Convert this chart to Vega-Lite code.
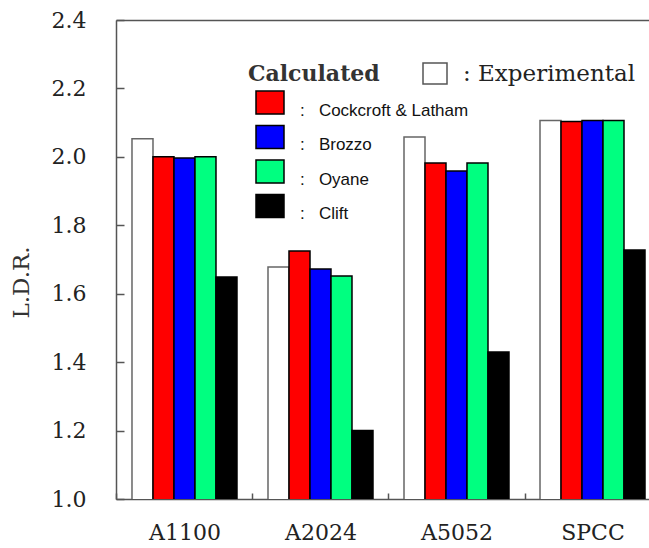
{
  "$schema": "https://vega.github.io/schema/vega-lite/v6.json",
  "width": 533,
  "height": 479,
  "autosize": {"type": "none"},
  "padding": {"left": 116, "top": 20, "right": 0, "bottom": 49},
  "background": "white",
  "config": {"view": {"stroke": null}},
  "data": {
    "values": [
      {"alloy": "A1100", "method": "Experimental", "ldr": 2.053},
      {"alloy": "A1100", "method": "Cockcroft & Latham", "ldr": 2.0},
      {"alloy": "A1100", "method": "Brozzo", "ldr": 1.997},
      {"alloy": "A1100", "method": "Oyane", "ldr": 2.0},
      {"alloy": "A1100", "method": "Clift", "ldr": 1.649},
      {"alloy": "A2024", "method": "Experimental", "ldr": 1.678},
      {"alloy": "A2024", "method": "Cockcroft & Latham", "ldr": 1.725},
      {"alloy": "A2024", "method": "Brozzo", "ldr": 1.672},
      {"alloy": "A2024", "method": "Oyane", "ldr": 1.652},
      {"alloy": "A2024", "method": "Clift", "ldr": 1.2},
      {"alloy": "A5052", "method": "Experimental", "ldr": 2.058},
      {"alloy": "A5052", "method": "Cockcroft & Latham", "ldr": 1.982},
      {"alloy": "A5052", "method": "Brozzo", "ldr": 1.959},
      {"alloy": "A5052", "method": "Oyane", "ldr": 1.982},
      {"alloy": "A5052", "method": "Clift", "ldr": 1.43},
      {"alloy": "SPCC", "method": "Experimental", "ldr": 2.106},
      {"alloy": "SPCC", "method": "Cockcroft & Latham", "ldr": 2.103},
      {"alloy": "SPCC", "method": "Brozzo", "ldr": 2.106},
      {"alloy": "SPCC", "method": "Oyane", "ldr": 2.106},
      {"alloy": "SPCC", "method": "Clift", "ldr": 1.728}
    ]
  },
  "encoding": {
    "x": {
      "field": "alloy",
      "type": "nominal",
      "sort": ["A1100", "A2024", "A5052", "SPCC"],
      "scale": {"paddingInner": 0.228, "paddingOuter": 0.0735, "align": 0.8}
    },
    "xOffset": {
      "field": "method",
      "type": "nominal",
      "scale": {
        "domain": ["Experimental", "Cockcroft & Latham", "Brozzo", "Oyane", "Clift"],
        "paddingInner": 0,
        "paddingOuter": 0
      }
    },
    "y": {
      "field": "ldr",
      "type": "quantitative",
      "scale": {"domain": [1.0, 2.4], "nice": false, "zero": false},
      "axis": {
        "values": [1.0, 1.2, 1.4, 1.6, 1.8, 2.0, 2.2, 2.4],
        "format": ".1f",
        "grid": false,
        "title": "L.D.R.",
        "titleFont": "DejaVu Serif",
        "titleFontSize": 23,
        "titleFontWeight": "normal",
        "titleColor": "#333",
        "titleAngle": -90,
        "titleX": -88,
        "titleY": 262,
        "titleBaseline": "alphabetic",
        "titleAlign": "center",
        "labelFont": "DejaVu Serif",
        "labelFontSize": 22,
        "labelColor": "#222",
        "labelPadding": 38,
        "tickSize": -8,
        "tickColor": "#555",
        "tickWidth": 1.5,
        "domainColor": "#555",
        "domainWidth": 1.5
      }
    }
  },
  "layer": [
    {
      "transform": [{"filter": "datum.method === 'Experimental'"}],
      "mark": {"type": "bar", "stroke": "#666", "strokeWidth": 1.5, "clip": true},
      "encoding": {
        "x": {
          "field": "alloy",
          "type": "nominal",
          "sort": ["A1100", "A2024", "A5052", "SPCC"],
          "axis": {
            "orient": "bottom",
            "title": null,
            "labelAngle": 0,
            "labelFont": "DejaVu Serif",
            "labelFontSize": 22,
            "labelColor": "#222",
            "labelPadding": 29,
            "tickSize": -6,
            "tickOffset": -68,
            "labelOffset": 68,
            "tickColor": "#555",
            "tickWidth": 1.5,
            "domainColor": "#555",
            "domainWidth": 1.5
          }
        },
        "fill": {
          "field": "method",
          "type": "nominal",
          "scale": {"domain": ["Experimental"], "range": ["white"]},
          "legend": {
            "title": null,
            "orient": "none",
            "legendX": 306,
            "legendY": 40.5,
            "padding": 0,
            "symbolType": "M-1,-0.875H1V0.875H-1Z",
            "symbolSize": 576,
            "symbolStrokeColor": "#555",
            "symbolStrokeWidth": 1.5,
            "labelFont": "DejaVu Serif",
            "labelFontSize": 23,
            "labelColor": "#222",
            "labelOffset": 15,
            "labelLimit": 300,
            "labelExpr": "':\u00a0' + datum.label"
          }
        }
      }
    },
    {
      "transform": [{"filter": "datum.method !== 'Experimental'"}],
      "mark": {"type": "bar", "stroke": "black", "strokeWidth": 1.5, "clip": true},
      "encoding": {
        "x": {
          "field": "alloy",
          "type": "nominal",
          "sort": ["A1100", "A2024", "A5052", "SPCC"],
          "axis": {
            "orient": "top",
            "title": null,
            "labels": false,
            "ticks": false,
            "domainColor": "#555",
            "domainWidth": 1.5
          }
        },
        "fill": {
          "field": "method",
          "type": "nominal",
          "scale": {
            "domain": ["Cockcroft & Latham", "Brozzo", "Oyane", "Clift"],
            "range": ["#FF0000", "#0000FF", "#00FF80", "#000000"]
          },
          "legend": {
            "title": "Calculated",
            "orient": "none",
            "legendX": 132,
            "legendY": 43.6,
            "padding": 0,
            "titleFont": "DejaVu Serif",
            "titleFontSize": 22,
            "titleFontWeight": "bold",
            "titleColor": "#333",
            "titleBaseline": "top",
            "titlePadding": 2,
            "symbolType": "M-1,-0.82H1V0.82H-1Z",
            "symbolSize": 784,
            "symbolStrokeColor": "black",
            "symbolStrokeWidth": 1.5,
            "symbolOffset": 7,
            "labelFont": "Liberation Sans",
            "labelFontSize": 17,
            "labelColor": "#111",
            "labelOffset": 15,
            "labelBaseline": "top",
            "labelLimit": 300,
            "rowPadding": 3.5,
            "labelExpr": "':\u00a0\u00a0\u00a0' + datum.label"
          }
        }
      }
    }
  ],
  "resolve": {"scale": {"fill": "independent"}, "axis": {"x": "independent"}}
}
